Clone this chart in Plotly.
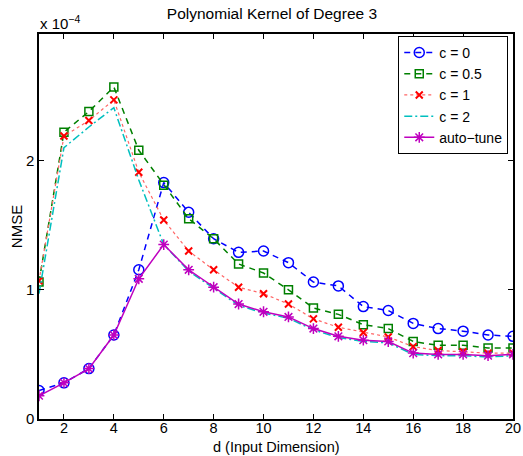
import plotly.graph_objects as go

d = list(range(1, 21))
# NMSE values in units of 1e-4
c0 = [0.22, 0.28, 0.39, 0.65, 1.155, 1.83, 1.60, 1.395, 1.29, 1.30, 1.21, 1.06, 1.03, 0.87, 0.84, 0.74, 0.70, 0.68, 0.65, 0.64]
c05 = [1.06, 2.22, 2.38, 2.57, 2.08, 1.81, 1.55, 1.395, 1.20, 1.13, 1.00, 0.86, 0.81, 0.73, 0.70, 0.60, 0.57, 0.57, 0.55, 0.55]
c1 = [1.07, 2.19, 2.31, 2.47, 1.91, 1.54, 1.30, 1.155, 1.02, 0.97, 0.89, 0.775, 0.71, 0.67, 0.635, 0.56, 0.53, 0.52, 0.51, 0.51]
c2 = [0.97, 2.10, 2.26, 2.41, 1.85, 1.35, 1.145, 1.01, 0.88, 0.82, 0.78, 0.69, 0.63, 0.60, 0.59, 0.50, 0.49, 0.49, 0.48, 0.49]
auto = [0.18, 0.28, 0.39, 0.65, 1.085, 1.35, 1.155, 1.02, 0.89, 0.83, 0.79, 0.70, 0.64, 0.61, 0.60, 0.51, 0.50, 0.50, 0.49, 0.50]

names = ["c = 0", "c = 0.5", "c = 1", "c = 2", "auto\u2212tune"]
xticks = list(range(2, 21, 2))
yticks = [0, 1, 2]

FONT = "Liberation Sans, Arial, sans-serif"

fig = go.Figure()
fig.add_trace(go.Scatter(x=d, y=c0, name=names[0], mode="lines+markers",
                         line=dict(color="#0000ff", dash="6px,5px", width=1.5),
                         marker=dict(symbol="circle-open", size=10, color="#0000ff", line=dict(width=1.5))))
fig.add_trace(go.Scatter(x=d, y=c05, name=names[1], mode="lines+markers",
                         line=dict(color="#008000", dash="6px,5px", width=1.5),
                         marker=dict(symbol="square-open", size=8, color="#008000", line=dict(width=1.5))))
fig.add_trace(go.Scatter(x=d, y=c1, name=names[2], mode="lines+markers",
                         line=dict(color="#ff6666", dash="dot", width=1.2),
                         marker=dict(symbol="x-thin-open", size=7, color="#ff0000", line=dict(width=2, color="#ff0000"))))
fig.add_trace(go.Scatter(x=d, y=c2, name=names[3], mode="lines",
                         line=dict(color="#00bfbf", dash="8px,3px,2px,3px", width=1.5)))
fig.add_trace(go.Scatter(x=d, y=auto, name=names[4], mode="lines+markers",
                         line=dict(color="#bf00bf", width=1.5),
                         marker=dict(symbol="asterisk-open", size=9, color="#bf00bf", line=dict(width=1.5, color="#bf00bf"))))

fig.update_layout(
    width=523, height=456,
    margin=dict(l=39, r=10, t=34, b=37),
    paper_bgcolor="white", plot_bgcolor="white",
    font=dict(family=FONT, size=15, color="black"),
    title=dict(text="Polynomial Kernel of Degree 3", x=0.52, xanchor="center", y=0.97, yanchor="middle",
               font=dict(size=15.5, family=FONT, color="black")),
    showlegend=True,
    legend=dict(x=0.99, xanchor="right", y=0.995, yanchor="top",
                bordercolor="black", borderwidth=1, bgcolor="white",
                font=dict(size=14, family=FONT), tracegroupgap=0, itemwidth=30),
)
fig.update_xaxes(range=[1, 20], tickvals=xticks, ticktext=[str(v) for v in xticks],
                 ticks="inside", ticklen=5, tickcolor="black", mirror="ticks", automargin=False,
                 showline=True, linecolor="black", linewidth=1.5, showgrid=False, zeroline=False,
                 tickfont=dict(size=14.5), ticklabelstandoff=-5)
fig.update_yaxes(range=[0, 2.98], tickvals=yticks, ticktext=[str(v) for v in yticks],
                 ticks="inside", ticklen=5, tickcolor="black", mirror="ticks", automargin=False,
                 showline=True, linecolor="black", linewidth=1.5, showgrid=False, zeroline=False,
                 tickfont=dict(size=15),
                 title=dict(text="NMSE", font=dict(size=15), standoff=0))
fig.add_annotation(text="d (Input Dimension)", xref="paper", yref="paper", x=0.5, y=-0.074,
                   xanchor="center", yanchor="middle", showarrow=False, font=dict(size=14.5, family=FONT))
fig.add_annotation(text="x 10<sup>\u22124</sup>", xref="paper", yref="paper", x=-0.002, y=1.0,
                   xanchor="left", yanchor="bottom", showarrow=False, font=dict(size=15, family=FONT))

fig.write_html("out.html")
